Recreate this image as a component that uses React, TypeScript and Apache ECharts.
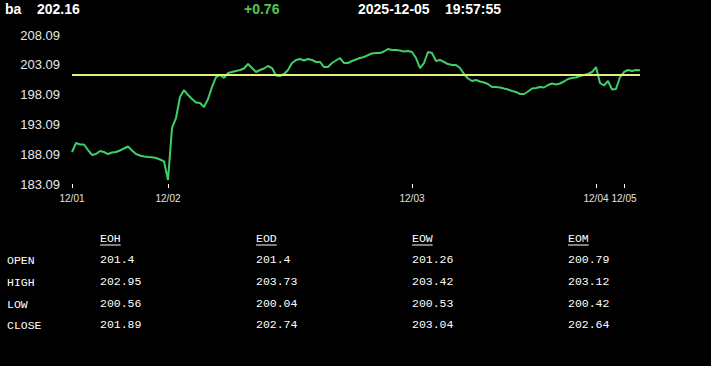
import React, { useEffect, useRef } from "react";
import * as echarts from "echarts";

const symbol = "ba";
const lastPrice = "202.16";
const change = "+0.76";
const dateText = "2025-12-05";
const timeText = "19:57:55";
const prevClose = 201.4;

const dayLabels = ["12/01", "12/02", "12/03", "12/04", "12/05"];
const dayStartIndex = [0, 24, 85, 131, 138];

const prices = [
  188.46, 189.97, 189.72, 189.72, 188.79, 187.96, 188.12, 188.63, 188.46, 188.12,
  188.38, 188.46, 188.71, 189.05, 189.38, 188.71, 188.12, 187.87, 187.7, 187.62,
  187.57, 187.45, 187.2, 186.87, 183.76, 192.49, 194.16, 197.69, 198.86, 198.02,
  197.35, 196.76, 196.68, 196.01, 197.35, 199.37, 201.04, 201.38, 200.88, 201.71,
  201.88, 202.05, 202.22, 202.47, 203.22, 202.55, 201.88, 202.22, 202.47, 202.89,
  202.55, 201.29, 201.21, 201.55, 202.22, 203.39, 203.9, 204.06, 203.81, 204.06,
  203.9, 203.56, 203.56, 202.72, 202.72, 203.39, 203.81, 204.23, 203.39, 203.39,
  203.73, 203.98, 204.23, 204.4, 204.73, 204.99, 205.07, 205.07, 205.32, 205.74,
  205.57, 205.57, 205.49, 205.32, 205.41, 205.24, 204.23, 202.55, 203.39, 205.24,
  205.07, 203.73, 203.9, 203.56, 203.22, 203.06, 203.06, 202.55, 201.55, 200.79,
  200.37, 200.54, 200.29, 200.12, 199.87, 199.37, 199.37, 199.28, 199.11, 198.95,
  198.69, 198.53, 198.19, 198.19, 198.61, 199.11, 199.2, 199.37, 199.28, 199.7,
  199.95, 199.78, 199.95, 200.29, 200.71, 200.88, 200.96, 201.21, 201.38, 201.55,
  201.88, 202.72, 200.04, 199.62, 200.37, 198.95, 199.03, 201.04, 201.88, 202.22,
  202.05, 202.22, 202.16,
];

const yMin = 183.09;
const yMax = 208.09;
const yStep = 5;

const rowLabels = ["OPEN", "HIGH", "LOW", "CLOSE"];
const colHeaders = ["EOH", "EOD", "EOW", "EOM"];
const eohValues = ["201.4", "202.95", "200.56", "201.89"];
const eodValues = ["201.4", "203.73", "200.04", "202.74"];
const eowValues = ["201.26", "203.42", "200.53", "203.04"];
const eomValues = ["200.79", "203.12", "200.42", "202.64"];
const tableColumns = [eohValues, eodValues, eowValues, eomValues];

// category labels: day label at day start, otherwise point id within day
const categories = prices.map((_, i) => {
  let d = 0;
  for (let k = 0; k < dayStartIndex.length; k++) if (i >= dayStartIndex[k]) d = k;
  return i === dayStartIndex[d] ? dayLabels[d] : dayLabels[d] + "#" + (i - dayStartIndex[d]);
});

export default function App() {
  const ref = useRef<HTMLDivElement>(null);
  useEffect(() => {
    document.body.style.margin = "0";
    document.body.style.background = "#000";
    const chart = echarts.init(ref.current!, null, { renderer: "svg" });
    const mono = "'Liberation Mono', 'DejaVu Sans Mono', monospace";
    const sans = "'Liberation Sans', Arial, sans-serif";
    const graphics: any[] = [
      { type: "text", left: 5, top: 2, style: { text: symbol, fill: "#fff", font: `bold 14px ${sans}` } },
      { type: "text", left: 37, top: 2, style: { text: lastPrice, fill: "#fff", font: `bold 14px ${sans}` } },
      { type: "text", left: 244, top: 2, style: { text: change, fill: "#4fc84f", font: `bold 14px ${sans}` } },
      { type: "text", left: 358, top: 2, style: { text: dateText, fill: "#fff", font: `bold 14px ${sans}` } },
      { type: "text", left: 445, top: 2, style: { text: timeText, fill: "#fff", font: `bold 14px ${sans}` } },
    ];
    const colX = [100, 256, 412, 568];
    const rowY = [253, 275, 297, 318];
    colHeaders.forEach((h, c) => {
      graphics.push({ type: "text", left: colX[c], top: 232, style: { text: h, fill: "#fff", font: `11.5px ${mono}` } });
      graphics.push({
        type: "line",
        shape: { x1: colX[c], y1: 245, x2: colX[c] + h.length * 6.9, y2: 245 },
        style: { stroke: "#fff", lineWidth: 1 },
      });
      tableColumns[c].forEach((v, r) => {
        graphics.push({ type: "text", left: colX[c], top: rowY[r], style: { text: v, fill: "#fff", font: `11.5px ${mono}` } });
      });
    });
    rowLabels.forEach((l, r) => {
      graphics.push({ type: "text", left: 7, top: rowY[r] + 1, style: { text: l, fill: "#fff", font: `11.5px ${mono}` } });
    });

    chart.setOption({
      animation: false,
      backgroundColor: "#000",
      grid: { left: 72, right: 71, top: 35, bottom: 182, containLabel: false },
      xAxis: {
        type: "category",
        data: categories,
        boundaryGap: false,
        axisLine: { show: false },
        axisTick: {
          show: true,
          length: 4,
          lineStyle: { color: "#fff" },
          interval: (i: number) => dayStartIndex.includes(i),
        },
        axisLabel: {
          color: "#e0e0e0",
          fontSize: 10,
          fontFamily: sans,
          margin: 9,
          interval: (i: number) => dayStartIndex.includes(i),
          formatter: (v: string) => v.split("#")[0],
        },
        splitLine: { show: false },
      },
      yAxis: {
        type: "value",
        min: yMin,
        max: yMax,
        interval: yStep,
        axisLine: { show: false },
        axisTick: { show: false },
        splitLine: { show: false },
        axisLabel: {
          color: "#e8e8e8",
          fontSize: 13,
          fontFamily: sans,
          margin: 12,
          formatter: (v: number) => v.toFixed(2),
        },
      },
      series: [
        {
          type: "line",
          data: prices,
          showSymbol: false,
          lineStyle: { color: "#3ecf6a", width: 2 },
          markLine: {
            silent: true,
            symbol: "none",
            label: { show: false },
            lineStyle: { color: "#e2f07a", width: 2, type: "solid" },
            data: [{ yAxis: prevClose }],
          },
        },
      ],
      graphic: graphics,
    });
    return () => chart.dispose();
  }, []);
  return <div ref={ref} style={{ width: 711, height: 366, background: "#000" }} />;
}
